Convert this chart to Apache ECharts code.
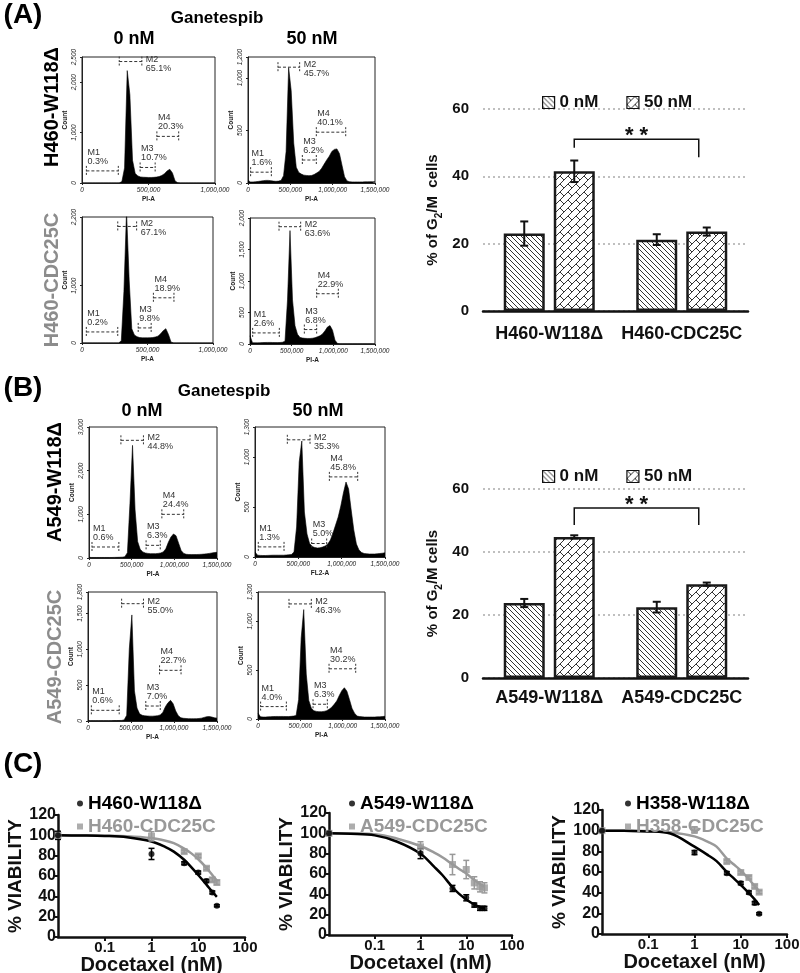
<!DOCTYPE html>
<html><head><meta charset="utf-8">
<script src="https://cdn.jsdelivr.net/npm/echarts@6/dist/echarts.min.js"></script>
<style>html,body{margin:0;padding:0;background:#fff}#c{width:800px;height:973px}</style>
</head><body><div id="c"></div><script>
// ---------------- DATA ----------------
// Flow cytometry histograms (counts per bin)
const histBin1M = 20000;   // bin width for 0..1,000,000 panels
const histBin15M = 30000;  // bin width for 0..1,500,000 panels
const histA1 = [0,0,0,0,0,0,0,0,0,0,0,0,0,0,0,30,300,2230,1750,450,190,140,120,115,112,110,110,112,118,128,150,185,240,272,200,40,5,0,0,0,0,0,0,0,0,0,0,0,0,0,0];
const histA2 = [25,10,10,12,15,18,22,25,25,22,18,16,18,25,70,300,1100,880,380,150,100,85,75,72,70,72,80,95,110,140,180,220,255,300,320,325,280,170,60,20,12,10,10,10,10,10,11,11,12,12,12];
const histA3 = [0,0,0,0,0,0,0,0,0,0,0,0,0,0,0,40,900,2300,1100,250,140,110,95,90,90,90,92,95,105,120,160,215,250,150,15,0,0,0,0,0,0,0,0,0,0,0,0,0,0,0,0];
const histA4 = [130,20,18,18,20,22,24,25,25,24,22,22,24,28,45,700,1800,700,290,155,105,95,90,88,88,92,100,115,130,160,210,270,292,220,60,8,3,3,3,3,3,3,3,3,3,3,3,3,3,3,3];
const histB1 = [15,12,12,12,12,12,12,12,12,12,14,15,17,20,30,120,1250,2580,1100,380,200,140,115,105,100,100,100,105,115,140,210,360,480,550,510,340,170,105,85,80,78,78,80,82,85,90,95,105,115,125,130];
const histB2 = [50,18,16,15,15,16,17,18,18,18,18,18,20,22,25,50,300,950,1160,450,230,135,105,95,90,92,100,110,130,170,240,320,400,510,640,750,680,470,270,130,70,45,35,32,30,30,30,32,35,38,42];
const histB3 = [6,5,5,5,5,5,5,5,5,5,6,6,7,8,15,80,1000,1480,420,180,100,80,72,70,68,68,70,75,85,120,200,255,288,240,140,75,45,38,35,33,32,32,33,35,40,50,60,62,55,45,40];
const histB4 = [60,22,20,20,22,24,25,26,26,26,26,25,25,27,30,35,200,830,1120,460,190,110,85,78,75,75,78,85,100,120,150,185,240,290,320,285,200,110,60,30,25,22,20,20,20,20,20,22,22,25,28];

// Histogram axis tick labels
const xTicks1M = [0, 500000, 1000000];
const xTicks15M = [0, 500000, 1000000, 1500000];
const yTicksA1 = [0, 1000, 2000, 2500];
const yTicksA2 = [0, 500, 1000, 1200];
const yTicksA3 = [0, 1000, 2200];
const yTicksA4 = [0, 500, 1000, 1500, 2000];
const yTicksB1 = [0, 1000, 2000, 3000];
const yTicksB2 = [0, 500, 1000, 1300];
const yTicksB3 = [0, 500, 1000, 1500, 1800];
const yTicksB4 = [0, 500, 1000, 1300];

// Gates: [start, end, level(count), name, percent]
const gatesA1 = [[33000,273000,240,'M1','0.3%'],[280000,450000,2410,'M2','65.1%'],[437000,550000,308,'M3','10.7%'],[563000,727000,925,'M4','20.3%']];
const gatesA2 = [[31000,276000,103,'M1','1.6%'],[354000,610000,1103,'M2','45.7%'],[642000,807000,219,'M3','6.2%'],[807000,1154000,484,'M4','40.1%']];
const gatesA3 = [[33000,273000,193,'M1','0.2%'],[273000,417000,2035,'M2','67.1%'],[429000,528000,263,'M3','9.8%'],[545000,702000,789,'M4','18.9%']];
const gatesA4 = [[32000,352000,176,'M1','2.6%'],[348000,608000,1862,'M2','63.6%'],[652000,800000,229,'M3','6.8%'],[800000,1060000,798,'M4','22.9%']];
const gatesB1 = [[35000,350000,252,'M1','0.6%'],[374000,638000,2695,'M2','44.8%'],[669000,835000,290,'M3','6.3%'],[854000,1110000,1000,'M4','24.4%']];
const gatesB2 = [[38000,335000,101,'M1','1.3%'],[373000,635000,1172,'M2','35.3%'],[654000,827000,135,'M3','5.0%'],[858000,1185000,801,'M4','45.8%']];
const gatesB3 = [[39000,363000,149,'M1','0.6%'],[391000,645000,1637,'M2','55.0%'],[672000,840000,209,'M3','7.0%'],[832000,1082000,707,'M4','22.7%']];
const gatesB4 = [[31000,335000,127,'M1','4.0%'],[366000,630000,1178,'M2','46.3%'],[650000,819000,151,'M3','6.3%'],[839000,1154000,514,'M4','30.2%']];

// G2/M bar charts
const barSeriesNames = ['0 nM', '50 nM'];
const barYTicks = [0, 20, 40, 60];
const barCatsA = ['H460-W118Δ', 'H460-CDC25C'];
const barA_0 = [23.0, 21.2];  const barA_0err = [3.6, 1.6];
const barA_50 = [41.5, 23.6]; const barA_50err = [3.2, 1.2];
const bracketA = [51.0, 48.5, 45.7]; // top, left end, right end
const barCatsB = ['A549-W118Δ', 'A549-CDC25C'];
const barB_0 = [23.8, 22.5];  const barB_0err = [1.3, 1.7];
const barB_50 = [44.8, 29.8]; const barB_50err = [0.5, 0.5];
const bracketB = [54.0, 48.6, 48.6];

// Dose-response (Docetaxel, nM; control plotted at axis start)
const doses = [0.01, 1, 5, 10, 15, 20, 25];
const fitX = [0.01, 0.03, 0.1, 0.3, 1, 2, 3, 5, 7, 10, 15, 20, 25];
const c1W = [100, 81.7, 72.5, 63.4, 55.2, 43.8, 30.7];  const c1WErr = [4, 5.5, 1.5, 1.5, 1.5, 1.5, 1];
const c1C = [100, 99, 84, 79.7, 67.6, 56.2, 53.6];      const c1CErr = [3, 4.5, 1.5, 1.5, 1.5, 2, 2];
const c1WFit = [100, 99.8, 99.4, 98.2, 94, 88.5, 84, 76, 69, 61, 51.5, 44.5, 39.5];
const c1CFit = [100, 99.9, 99.7, 99.2, 97.3, 94.7, 92.3, 87, 82.5, 76.5, 68, 61, 55.5];
const c2W = [100, 80.1, 45.8, 36.6, 29.4, 26.2, 26.2];  const c2WErr = [2, 5, 3, 3, 2, 2, 2];
const c2C = [100, 86.7, 69.3, 64.4, 51.3, 47.4, 46.4];  const c2CErr = [2, 5, 10, 9, 6, 5, 5];
const c2WFit = [100, 99.5, 98, 92, 80, 67, 59, 47, 40.5, 35, 30, 27.5, 26];
const c2CFit = [100, 99.8, 99.2, 95, 87.5, 81, 76.5, 69.5, 65, 60.5, 54, 50, 47.5];
const c3W = [100, 78.8, 58.9, 49.2, 40.2, 29.9, 19.6];  const c3WErr = [1, 2, 1.5, 1.5, 1.5, 1.5, 1];
const c3C = [100, 100.7, 70.1, 59.5, 54.7, 46, 40.5];   const c3CErr = [1, 3, 1.5, 1.5, 1.5, 1.5, 1.5];
const c3WFit = [100, 99.8, 99.3, 97.2, 84.5, 76, 70.5, 60, 54, 47.5, 39.5, 33.5, 28];
const c3CFit = [100, 99.9, 99.6, 98.5, 94.5, 89, 84.5, 73, 67.5, 61.5, 53, 46.5, 41.5];
const drNames1 = ['H460-W118Δ', 'H460-CDC25C'];
const drNames2 = ['A549-W118Δ', 'A549-CDC25C'];
const drNames3 = ['H358-W118Δ', 'H358-CDC25C'];

// ---------------- STYLE / LAYOUT ----------------
const FONT = '"Liberation Sans", Arial, Helvetica, sans-serif';
const GRAY = '#999999';
const LABEL_GRAY = '#8c8c8c';

function hatchTile() {
  const s = 5, c = document.createElement('canvas'); c.width = s; c.height = s;
  const g = c.getContext('2d'); g.fillStyle = '#fff'; g.fillRect(0, 0, s, s);
  g.strokeStyle = '#333'; g.lineWidth = 1;
  for (let k = -1; k <= 1; k++) { g.beginPath(); g.moveTo(k * s, 0); g.lineTo(k * s + s, s); g.stroke(); }
  return c;
}
function brickTile() {
  const s = 8, c = document.createElement('canvas'); c.width = s; c.height = s;
  const g = c.getContext('2d'); g.fillStyle = '#fff'; g.fillRect(0, 0, s, s);
  g.strokeStyle = '#333'; g.lineWidth = 1;
  for (let i = -1; i <= 1; i++) for (let j = -1; j <= 1; j++) {
    const ox = i * s, oy = j * s;
    g.beginPath(); g.moveTo(ox, oy + s); g.lineTo(ox + s, oy); g.stroke();
    g.beginPath(); g.moveTo(ox, oy); g.lineTo(ox + s / 2, oy + s / 2); g.stroke();
  }
  return c;
}
const pat0 = { image: hatchTile(), repeat: 'repeat' };
const pat50 = { image: brickTile(), repeat: 'repeat' };

const histLayout = [[82,57,133,126],[248,57,127,126],[82,217,131,126],[250,218,125,126],
                    [89,427,128,131],[255,427,130,130],[88,592,129,129],[258,592,127,127]];
const histDefs = [
  {data: histA1, bin: histBin1M,  xMax: 1000000, yMax: 2500, yTicks: yTicksA1, xTicks: xTicks1M,  xName: 'PI-A',  gates: gatesA1},
  {data: histA2, bin: histBin15M, xMax: 1500000, yMax: 1200, yTicks: yTicksA2, xTicks: xTicks15M, xName: 'PI-A',  gates: gatesA2},
  {data: histA3, bin: histBin1M,  xMax: 1000000, yMax: 2200, yTicks: yTicksA3, xTicks: xTicks1M,  xName: 'PI-A',  gates: gatesA3},
  {data: histA4, bin: histBin15M, xMax: 1500000, yMax: 2000, yTicks: yTicksA4, xTicks: xTicks15M, xName: 'PI-A',  gates: gatesA4},
  {data: histB1, bin: histBin15M, xMax: 1500000, yMax: 3000, yTicks: yTicksB1, xTicks: xTicks15M, xName: 'PI-A',  gates: gatesB1},
  {data: histB2, bin: histBin15M, xMax: 1500000, yMax: 1300, yTicks: yTicksB2, xTicks: xTicks15M, xName: 'FL2-A', gates: gatesB2},
  {data: histB3, bin: histBin15M, xMax: 1500000, yMax: 1800, yTicks: yTicksB3, xTicks: xTicks15M, xName: 'PI-A',  gates: gatesB3},
  {data: histB4, bin: histBin15M, xMax: 1500000, yMax: 1300, yTicks: yTicksB4, xTicks: xTicks15M, xName: 'PI-A',  gates: gatesB4}
];

const grid = [], xAxis = [], yAxis = [], series = [], legend = [];

function gateSeries(gi, gates) {
  return {
    type: 'custom', xAxisIndex: gi, yAxisIndex: gi, silent: true, z: 10, clip: false,
    data: gates.map(g => [g[0], g[2]]),
    renderItem: (params, api) => {
      const g = gates[params.dataIndex];
      const a = api.coord([g[0], g[2]]), b = api.coord([g[1], g[2]]);
      const y = a[1];
      const ls = {stroke: '#333', lineWidth: 1, lineDash: [3, 2]};
      const vs = {stroke: '#333', lineWidth: 1, lineDash: [2, 1.5]};
      const right = g[3] === 'M2';
      return {type: 'group', children: [
        {type: 'line', shape: {x1: a[0], y1: y, x2: b[0], y2: y}, style: ls},
        {type: 'line', shape: {x1: a[0], y1: y - 5, x2: a[0], y2: y + 5}, style: vs},
        {type: 'line', shape: {x1: b[0], y1: y - 5, x2: b[0], y2: y + 5}, style: vs},
        {type: 'text', x: right ? b[0] + 4 : a[0] + 1, y: right ? y - 7 : y - 5,
          style: {text: g[3] + '\n' + g[4], fill: '#333', fontSize: 9, fontFamily: FONT,
                  align: 'left', verticalAlign: right ? 'top' : 'bottom', lineHeight: 9}}
      ]};
    }
  };
}

histDefs.forEach((p, i) => {
  const r = histLayout[i];
  grid.push({left: r[0], top: r[1], width: r[2], height: r[3], show: true, borderColor: '#222', borderWidth: 1, containLabel: false, outerBoundsMode: 'none'});
  xAxis.push({gridIndex: i, type: 'value', min: 0, max: p.xMax,
    axisLine: {show: true, onZero: false, lineStyle: {color: '#222', width: 1}},
    axisTick: {show: true, customValues: p.xTicks, length: 2, lineStyle: {color: '#222'}},
    axisLabel: {customValues: p.xTicks, formatter: v => Math.round(v).toLocaleString('en-US'), fontSize: 6.5, color: '#222', fontFamily: FONT, fontStyle: 'italic', margin: 4},
    splitLine: {show: false},
    name: p.xName, nameLocation: 'middle', nameGap: 13,
    nameTextStyle: {fontSize: 6.5, fontWeight: 'bold', color: '#222', fontFamily: FONT}});
  yAxis.push({gridIndex: i, type: 'value', min: 0, max: p.yMax,
    axisLine: {show: true, lineStyle: {color: '#222', width: 1}},
    axisTick: {show: true, customValues: p.yTicks, length: 2, lineStyle: {color: '#222'}},
    axisLabel: {customValues: p.yTicks, formatter: v => Math.round(v).toLocaleString('en-US'), rotate: 90, fontSize: 6.5, color: '#222', fontFamily: FONT, fontStyle: 'italic', margin: 4},
    splitLine: {show: false},
    name: 'Count', nameLocation: 'middle', nameGap: 13, nameRotate: 90,
    nameTextStyle: {fontSize: 6.5, fontWeight: 'bold', color: '#222', fontFamily: FONT}});
  series.push({type: 'line', xAxisIndex: i, yAxisIndex: i, silent: true, symbol: 'none', showSymbol: false,
    data: p.data.map((v, k) => [k * p.bin, v]),
    lineStyle: {color: '#000', width: 0.6}, areaStyle: {color: '#000', opacity: 1}});
  series.push(gateSeries(i, p.gates));
});

// ---- bar charts ----
const barLayout = [[483,109,265,202],[483,489,265,189]];
const barDefs = [
  {cats: barCatsA, v0: barA_0, e0: barA_0err, v50: barA_50, e50: barA_50err, br: bracketA, yName: '% of G{s|2}/M  cells', legendTop: 89, labelMargin: 14},
  {cats: barCatsB, v0: barB_0, e0: barB_0err, v50: barB_50, e50: barB_50err, br: bracketB, yName: '% of G{s|2}/M cells', legendTop: 463, labelMargin: 11}
];
const BAR_W = 41, BAR_OFF = 25;

function barErr(gi, means, errs, offset) {
  return {type: 'custom', xAxisIndex: gi, yAxisIndex: gi, silent: true, z: 6, clip: false,
    data: means.map((m, k) => [k, m, errs[k]]),
    renderItem: (params, api) => {
      const k = api.value(0), m = api.value(1), e = api.value(2);
      const t = api.coord([k, m + e]), b = api.coord([k, m - e]);
      const x = t[0] + offset, st = {stroke: '#111', lineWidth: 2};
      return {type: 'group', children: [
        {type: 'line', shape: {x1: x, y1: t[1], x2: x, y2: b[1]}, style: st},
        {type: 'line', shape: {x1: x - 4, y1: t[1], x2: x + 4, y2: t[1]}, style: st},
        {type: 'line', shape: {x1: x - 4, y1: b[1], x2: x + 4, y2: b[1]}, style: st}]};
    }};
}
function bracket(gi, br) {
  return {type: 'custom', xAxisIndex: gi, yAxisIndex: gi, silent: true, z: 7, clip: false,
    data: [[0, br[0]]],
    renderItem: (params, api) => {
      const c0 = api.coord([0, br[0]]), c1 = api.coord([1, br[0]]);
      const xl = c0[0] + BAR_OFF, xr = c1[0] + 17, yt = c0[1];
      const yl = api.coord([0, br[1]])[1], yr = api.coord([1, br[2]])[1];
      return {type: 'group', children: [
        {type: 'polyline', shape: {points: [[xl, yl], [xl, yt], [xr, yt], [xr, yr]]}, style: {stroke: '#111', lineWidth: 1.5, fill: null}},
        {type: 'text', x: (xl + xr) / 2, y: yt - 3, style: {text: '* *', fontSize: 22, fontWeight: 'bold', fontFamily: FONT, fill: '#111', align: 'center', verticalAlign: 'middle'}}]};
    }};
}

barDefs.forEach((b, j) => {
  const gi = 8 + j, r = barLayout[j];
  grid.push({left: r[0], top: r[1], width: r[2], height: r[3], containLabel: false, outerBoundsMode: 'none'});
  xAxis.push({gridIndex: gi, type: 'category', data: b.cats,
    axisLine: {lineStyle: {color: '#111', width: 2.5}}, axisTick: {show: false},
    axisLabel: {interval: 0, hideOverlap: false, fontSize: 18, fontWeight: 'bold', color: '#111', fontFamily: FONT, margin: b.labelMargin}});
  yAxis.push({gridIndex: gi, type: 'value', min: 0, max: 60, interval: 20,
    axisLine: {show: false}, axisTick: {show: false},
    axisLabel: {fontSize: 15, fontWeight: 'bold', color: '#111', fontFamily: FONT, margin: 14},
    splitLine: {show: true, lineStyle: {color: '#aaa', width: 1.5, type: [2, 3]}},
    name: b.yName, nameLocation: 'middle', nameGap: 39, nameRotate: 90,
    nameTextStyle: {fontSize: 15, lineHeight: 22, fontWeight: 'bold', color: '#111', fontFamily: FONT,
      rich: {s: {fontSize: 10, lineHeight: 10, fontWeight: 'bold', fontFamily: FONT, color: '#111', verticalAlign: 'bottom'}}}});
  series.push({type: 'bar', name: barSeriesNames[0], xAxisIndex: gi, yAxisIndex: gi, data: b.v0, barWidth: BAR_W, barGap: '22%',
    itemStyle: {color: pat0, borderColor: '#1a1a1a', borderWidth: 2.5}});
  series.push({type: 'bar', name: barSeriesNames[1], xAxisIndex: gi, yAxisIndex: gi, data: b.v50, barWidth: BAR_W, barGap: '22%',
    itemStyle: {color: pat50, borderColor: '#1a1a1a', borderWidth: 2.5}});
  series.push(barErr(gi, b.v0, b.e0, -BAR_OFF));
  series.push(barErr(gi, b.v50, b.e50, BAR_OFF));
  series.push(bracket(gi, b.br));
  legend.push({left: 537, top: b.legendTop, orient: 'horizontal', itemWidth: 12, itemHeight: 12, itemGap: 28, selectedMode: false,
    icon: 'rect', itemStyle: {borderWidth: 1.2, borderColor: '#111'},
    textStyle: {fontSize: 17, fontWeight: 'bold', color: '#111', fontFamily: FONT}, data: barSeriesNames.slice()});
});

// ---- dose-response ----
const drLayout = [[58,815,187,122],[329,813,183,122],[602,810,185,124]];
const drLegendLeft = [72, 344, 620];
const drDefs = [
  {names: drNames1, w: c1W, we: c1WErr, c: c1C, ce: c1CErr, wf: c1WFit, cf: c1CFit},
  {names: drNames2, w: c2W, we: c2WErr, c: c2C, ce: c2CErr, wf: c2WFit, cf: c2CFit},
  {names: drNames3, w: c3W, we: c3WErr, c: c3C, ce: c3CErr, wf: c3WFit, cf: c3CFit}
];
function drErr(gi, means, errs, color) {
  return {type: 'custom', xAxisIndex: gi, yAxisIndex: gi, silent: true, z: 4, clip: false,
    data: doses.map((d, k) => [d, means[k], errs[k]]),
    renderItem: (params, api) => {
      const x = api.value(0), m = api.value(1), e = api.value(2);
      const t = api.coord([x, m + e]), b = api.coord([x, m - e]);
      const st = {stroke: color, lineWidth: 1.5};
      return {type: 'group', children: [
        {type: 'line', shape: {x1: t[0], y1: t[1], x2: b[0], y2: b[1]}, style: st},
        {type: 'line', shape: {x1: t[0] - 3, y1: t[1], x2: t[0] + 3, y2: t[1]}, style: st},
        {type: 'line', shape: {x1: b[0] - 3, y1: b[1], x2: b[0] + 3, y2: b[1]}, style: st}]};
    }};
}
drDefs.forEach((d, j) => {
  const gi = 10 + j, r = drLayout[j];
  grid.push({left: r[0], top: r[1], width: r[2], height: r[3], containLabel: false, outerBoundsMode: 'none'});
  xAxis.push({gridIndex: gi, type: 'log', logBase: 10, min: 0.01, max: 100,
    axisLine: {lineStyle: {color: '#111', width: 2.5}},
    axisTick: {show: true, length: 4, lineStyle: {color: '#111', width: 2}},
    axisLabel: {showMinLabel: false, formatter: v => (v < 1 ? (+v).toFixed(1) : String(Math.round(v))),
      fontSize: 15, fontWeight: 'bold', color: '#111', fontFamily: FONT, margin: 3},
    splitLine: {show: false},
    name: 'Docetaxel (nM)', nameLocation: 'middle', nameGap: 17,
    nameTextStyle: {fontSize: 20, fontWeight: 'bold', color: '#111', fontFamily: FONT}});
  yAxis.push({gridIndex: gi, type: 'value', min: 0, max: 120, interval: 20,
    axisLine: {show: true, lineStyle: {color: '#111', width: 2.5}},
    axisTick: {show: true, length: 4, lineStyle: {color: '#111', width: 2}},
    axisLabel: {fontSize: 16, fontWeight: 'bold', color: '#111', fontFamily: FONT, margin: 2},
    splitLine: {show: false},
    name: '% VIABILITY', nameLocation: 'middle', nameGap: 25, nameRotate: 90,
    nameTextStyle: {fontSize: 19, fontWeight: 'bold', color: '#111', fontFamily: FONT}});
  series.push({type: 'line', name: d.names[1] + ' fit', xAxisIndex: gi, yAxisIndex: gi, silent: true, symbol: 'none', smooth: 0.35,
    data: fitX.map((x, k) => [x, d.cf[k]]), lineStyle: {color: GRAY, width: 2.5}, z: 2});
  series.push({type: 'line', name: d.names[0] + ' fit', xAxisIndex: gi, yAxisIndex: gi, silent: true, symbol: 'none', smooth: 0.35,
    data: fitX.map((x, k) => [x, d.wf[k]]), lineStyle: {color: '#000', width: 2.5}, z: 3});
  series.push(drErr(gi, d.c, d.ce, GRAY));
  series.push({type: 'scatter', name: d.names[1], xAxisIndex: gi, yAxisIndex: gi, silent: true, clip: false, symbol: 'rect', symbolSize: 7,
    data: doses.map((x, k) => [x, d.c[k]]), itemStyle: {color: GRAY}, z: 5});
  series.push(drErr(gi, d.w, d.we, '#000'));
  series.push({type: 'scatter', name: d.names[0], xAxisIndex: gi, yAxisIndex: gi, silent: true, clip: false, symbol: 'circle', symbolSize: 6,
    data: doses.map((x, k) => [x, d.w[k]]), itemStyle: {color: '#000'}, z: 6});
  legend.push({left: drLegendLeft[j], top: 789, orient: 'vertical', itemWidth: 6, itemHeight: 6, itemGap: 4, selectedMode: false,
    textStyle: {fontSize: 19, fontWeight: 'bold', fontFamily: FONT},
    data: [{name: d.names[0], icon: 'circle', textStyle: {color: '#000'}},
           {name: d.names[1], icon: 'rect', textStyle: {color: GRAY}}]});
});

// ---- free texts ----
function txt(x, y, text, size, color, rot) {
  return {type: 'text', x: x, y: y, rotation: rot || 0, silent: true,
    style: {text: text, fontSize: size, fontWeight: 'bold', fontFamily: FONT, fill: color || '#000', align: 'center', verticalAlign: 'middle'}};
}
const R = Math.PI / 2;
const graphic = [
  txt(23, 15, '(A)', 28), txt(23, 388, '(B)', 28), txt(23, 764, '(C)', 28),
  txt(217, 18, 'Ganetespib', 17), txt(134, 39, '0 nM', 18), txt(312, 39, '50 nM', 18),
  txt(224, 391, 'Ganetespib', 17), txt(142, 411, '0 nM', 18), txt(318, 411, '50 nM', 18),
  txt(52, 107, 'H460-W118Δ', 20, '#000', R), txt(52, 280, 'H460-CDC25C', 20, LABEL_GRAY, R),
  txt(55, 482, 'A549-W118Δ', 20, '#000', R), txt(55, 657, 'A549-CDC25C', 20, LABEL_GRAY, R)
];

const chart = echarts.init(document.getElementById('c'), null, {renderer: 'canvas'});
chart.setOption({
  animation: false, backgroundColor: '#fff',
  textStyle: {fontFamily: FONT},
  grid, xAxis, yAxis, series, legend, graphic
});
</script></body></html>
